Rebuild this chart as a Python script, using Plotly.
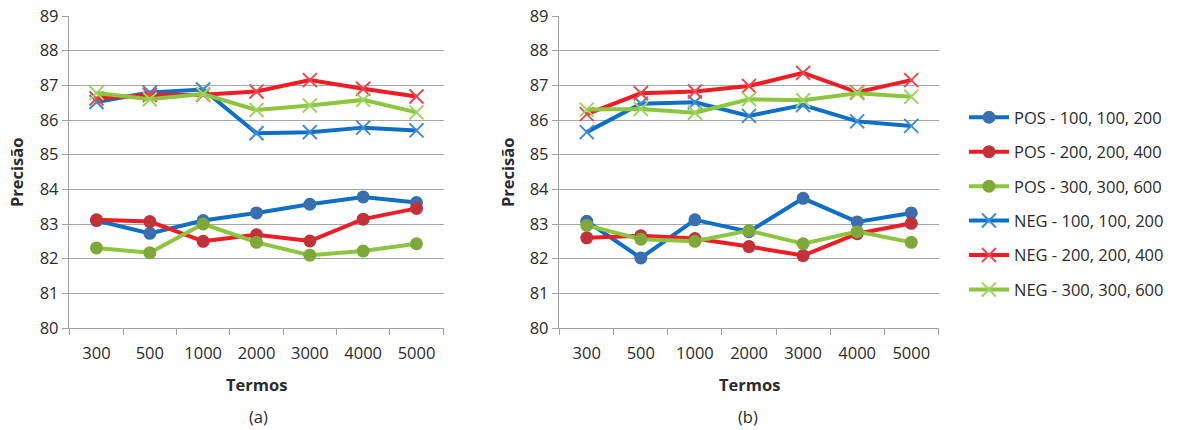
import plotly.graph_objects as go

W, H = 1177, 430

termos = ["300", "500", "1000", "2000", "3000", "4000", "5000"]
y_ticks = [80, 81, 82, 83, 84, 85, 86, 87, 88, 89]

series_names = ["POS - 100, 100, 200", "POS - 200, 200, 400", "POS - 300, 300, 600",
                "NEG - 100, 100, 200", "NEG - 200, 200, 400", "NEG - 300, 300, 600"]

# Chart (a)
a_pos_100 = [83.10, 82.73, 83.10, 83.32, 83.57, 83.78, 83.62]
a_pos_200 = [83.12, 83.07, 82.50, 82.69, 82.51, 83.14, 83.45]
a_pos_300 = [82.31, 82.17, 83.00, 82.47, 82.10, 82.22, 82.43]
a_neg_100 = [86.52, 86.79, 86.88, 85.62, 85.65, 85.78, 85.70]
a_neg_200 = [86.62, 86.72, 86.73, 86.82, 87.15, 86.90, 86.68]
a_neg_300 = [86.78, 86.60, 86.75, 86.29, 86.42, 86.58, 86.22]

# Chart (b)
b_pos_100 = [83.08, 82.02, 83.12, 82.78, 83.74, 83.06, 83.32]
b_pos_200 = [82.60, 82.66, 82.58, 82.35, 82.09, 82.72, 83.02]
b_pos_300 = [82.96, 82.56, 82.50, 82.81, 82.43, 82.78, 82.47]
b_neg_100 = [85.65, 86.47, 86.51, 86.12, 86.43, 85.96, 85.83]
b_neg_200 = [86.17, 86.77, 86.82, 86.98, 87.36, 86.80, 87.15]
b_neg_300 = [86.30, 86.32, 86.21, 86.60, 86.57, 86.77, 86.67]

line_colors = ["#0F6FC6", "#EE1C25", "#8CC63F", "#0F6FC6", "#EE1C25", "#8CC63F"]
marker_colors = ["#3A6EAE", "#C0313A", "#7FA83A", "#3B8AD8", "#F0474E", "#9FD45E"]

FONT = "Open Sans"
TXT = "#2B2B2B"
fig = go.Figure()

def add_traces(data, xa, ya, showlegend):
    for i, vals in enumerate(data):
        is_neg = i >= 3
        if is_neg:
            marker = dict(symbol="x-thin", size=14,
                          line=dict(width=2, color=marker_colors[i]))
        else:
            marker = dict(symbol="circle", size=13, color=marker_colors[i],
                          line=dict(width=0))
        fig.add_trace(go.Scatter(
            x=termos, y=vals, mode="lines+markers", name=series_names[i],
            line=dict(color=line_colors[i], width=4),
            marker=marker, xaxis=xa, yaxis=ya,
            showlegend=showlegend, legendgroup="g%d" % i,
        ))

add_traces([a_pos_100, a_pos_200, a_pos_300, a_neg_100, a_neg_200, a_neg_300], "x", "y", True)
add_traces([b_pos_100, b_pos_200, b_pos_300, b_neg_100, b_neg_200, b_neg_300], "x2", "y2", False)

ydom = [1 - 328 / H, 1 - 16 / H]
axis_font = dict(family=FONT, size=16.5, color=TXT)

xcommon = dict(type="category", showline=True, linecolor="#A0A0A0", linewidth=1.3,
               ticks="outside", tickson="boundaries", ticklen=6, tickcolor="#A0A0A0",
               tickfont=axis_font, showgrid=False, zeroline=False, fixedrange=True,
               automargin=False, ticklabelstandoff=10)
ycommon = dict(range=[80, 89], tickvals=y_ticks, showline=True, linecolor="#A0A0A0",
               linewidth=1.3, ticks="outside", ticklen=6, tickcolor="#A0A0A0",
               tickfont=axis_font, showgrid=True, gridcolor="#A6A6A6", gridwidth=1.3,
               zeroline=False, fixedrange=True, automargin=False)

title_font = dict(family=FONT, size=16.5, color=TXT)

def ann(text, x, y, angle=0, bold=False):
    return dict(text=text, x=x / W, y=1 - y / H, xref="paper", yref="paper",
                xanchor="center", yanchor="middle", textangle=angle,
                showarrow=False, font=title_font)

fig.update_layout(
    template="none",
    width=W, height=H,
    margin=dict(l=0, r=0, t=0, b=0, autoexpand=False),
    paper_bgcolor="white", plot_bgcolor="white",
    font=dict(family=FONT, color=TXT),
    xaxis=dict(domain=[69 / W, 444 / W], anchor="y", **xcommon),
    yaxis=dict(domain=ydom, anchor="x", **ycommon),
    xaxis2=dict(domain=[559 / W, 939 / W], anchor="y2", **xcommon),
    yaxis2=dict(domain=ydom, anchor="x2", **ycommon),
    legend=dict(x=964 / W, y=1 - 100 / H, xanchor="left", yanchor="top",
                font=dict(family=FONT, size=16.5, color=TXT),
                tracegroupgap=10, itemwidth=40, bgcolor="rgba(0,0,0,0)"),
    annotations=[
        ann("<b>Precisão</b>", 16, 172, -90),
        ann("<b>Precisão</b>", 507, 172, -90),
        ann("<b>Termos</b>", 256, 384),
        ann("<b>Termos</b>", 749, 384),
        ann("(a)", 258, 416),
        ann("(b)", 748, 416),
    ],
)

fig.write_html("out.html", config={"displayModeBar": False},
               post_script="document.body.style.margin='0';")
